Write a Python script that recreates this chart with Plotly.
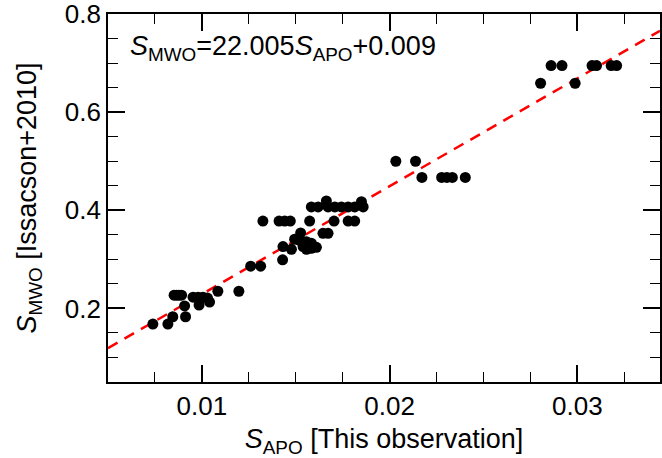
import plotly.graph_objects as go

# S_APO (this observation)
s_apo = [0.00739, 0.00819, 0.00845, 0.00913, 0.00908,
         0.00852, 0.00865, 0.00878, 0.00892,
         0.00953, 0.00980, 0.01006, 0.01030, 0.00985, 0.01041,
         0.01085, 0.01197, 0.01260, 0.01313, 0.01430,
         0.01432, 0.01477, 0.01494, 0.01521, 0.01526, 0.01557, 0.01583,
         0.01557, 0.01610, 0.01583, 0.01539, 0.01645, 0.01672,
         0.01325, 0.01411, 0.01441, 0.01471, 0.01574, 0.01704, 0.01779, 0.01814,
         0.01583, 0.01619, 0.01672, 0.01708, 0.01743, 0.01779, 0.01814, 0.01859,
         0.01663, 0.01850,
         0.02033, 0.02138, 0.02172, 0.02277, 0.02305, 0.02334, 0.02403,
         0.02804, 0.02860, 0.02918, 0.02988, 0.03078, 0.03102, 0.03180, 0.03209]
# S_MWO (Isaacson+2010)
s_mwo = [0.168, 0.168, 0.183, 0.183, 0.205,
         0.227, 0.227, 0.227, 0.227,
         0.223, 0.223, 0.223, 0.221, 0.207, 0.213,
         0.235, 0.235, 0.286, 0.286, 0.299,
         0.326, 0.3205, 0.341, 0.339, 0.354, 0.336, 0.333,
         0.3205, 0.3245, 0.3225, 0.326, 0.353, 0.353,
         0.378, 0.378, 0.378, 0.378, 0.378, 0.378, 0.378, 0.378,
         0.407, 0.407, 0.407, 0.407, 0.407, 0.407, 0.407, 0.407,
         0.419, 0.4175,
         0.500, 0.500, 0.467, 0.467, 0.467, 0.467, 0.467,
         0.659, 0.695, 0.695, 0.659, 0.695, 0.695, 0.695, 0.695]

slope = 22.005
intercept = 0.009
x_range = [0.005, 0.0344]
y_range = [0.05, 0.8002]
x_ticks = [0.01, 0.02, 0.03]
x_tick_labels = ["0.01", "0.02", "0.03"]
y_ticks = [0.2, 0.4, 0.6, 0.8]
y_tick_labels = ["0.2", "0.4", "0.6", "0.8"]

FONT = "Liberation Sans, Arial, Helvetica, sans-serif"

fig = go.Figure()
fit_x = x_range
fit_y = [slope * v + intercept for v in fit_x]
fig.add_trace(go.Scatter(x=fit_x, y=fit_y, mode="lines",
                         line=dict(color="#ff0000", width=2.5, dash="11px,8px"),
                         hoverinfo="skip", showlegend=False, cliponaxis=True))
fig.add_trace(go.Scatter(x=s_apo, y=s_mwo, mode="markers",
                         marker=dict(color="black", size=11, line=dict(width=0)),
                         showlegend=False))

axis_common = dict(showline=True, linecolor="black", linewidth=1.8, mirror="allticks",
                   ticks="inside", ticklen=17, tickwidth=1.5, tickcolor="black",
                   showgrid=False, zeroline=False, ticklabeloverflow="allow",
                   tickfont=dict(family=FONT, size=26, color="black"))

fig.update_xaxes(range=x_range, tickvals=x_ticks, ticktext=x_tick_labels,
                 minor=dict(dtick=0.0025, tick0=0.0, ticks="inside", ticklen=10,
                            tickwidth=1.2, tickcolor="black", showgrid=False),
                 title=dict(text="<i>S</i><sub>APO</sub> [This observation]",
                            font=dict(family=FONT, size=27, color="black"), standoff=9),
                 **axis_common)
fig.update_yaxes(range=y_range, tickvals=y_ticks, ticktext=y_tick_labels,
                 minor=dict(dtick=0.05, tick0=0.0, ticks="inside", ticklen=10,
                            tickwidth=1.2, tickcolor="black", showgrid=False),
                 title=dict(text="<i>S</i><sub>MWO</sub> [Issacson+2010]",
                            font=dict(family=FONT, size=27, color="black"), standoff=20),
                 **axis_common)

fig.add_annotation(xref="paper", yref="paper", x=0.036, y=0.96,
                   xanchor="left", yanchor="top", showarrow=False,
                   text=f"<i>S</i><sub>MWO</sub>={slope:.3f}<i>S</i><sub>APO</sub>+{intercept:.3f}",
                   font=dict(family=FONT, size=27, color="black"))

fig.update_layout(width=662, height=458, autosize=False,
                  margin=dict(l=108, r=2, t=14, b=76, autoexpand=False),
                  paper_bgcolor="white", plot_bgcolor="white")

fig.write_html("out.html")
